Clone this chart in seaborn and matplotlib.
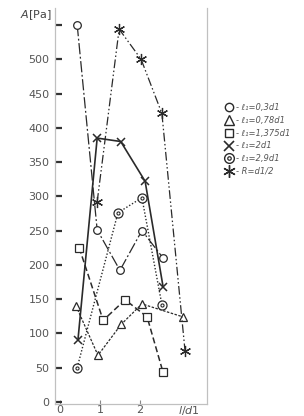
import matplotlib
matplotlib.use("Agg")
import matplotlib.pyplot as plt
import seaborn as sns
import pandas as pd
from matplotlib.lines import Line2D
from matplotlib.legend_handler import HandlerTuple

# ---- data ----
x_c = [0.43, 0.93, 1.50, 2.05, 2.58]
y_c = [550, 251, 192, 250, 210]          # l1=0,3d1

x_t = [0.40, 0.95, 1.53, 2.05, 3.08]
y_t = [140, 68, 113, 143, 124]           # l1=0,78d1

x_s = [0.48, 1.08, 1.63, 2.18, 2.58]
y_s = [225, 119, 149, 124, 43]           # l1=1,375d1

x_x = [0.45, 0.93, 1.52, 2.13, 2.58]
y_x = [91, 385, 380, 322, 168]           # l1=2d1

x_d = [0.43, 1.45, 2.05, 2.55]
y_d = [50, 276, 298, 142]                # l1=2,9d1

x_a = [0.93, 1.48, 2.03, 2.55, 3.13]
y_a = [292, 544, 500, 421, 74]           # R=d1/2

labels = ["- ℓ₁=0,3d1", "- ℓ₁=0,78d1", "- ℓ₁=1,375d1",
          "- ℓ₁=2d1", "- ℓ₁=2,9d1", "- R=d1/2"]
yticks = [0, 50, 100, 150, 200, 250, 300, 350, 400, 450, 500, 550]
ytick_labels = ["0", "50", "100", "150", "200", "250", "300", "350",
                "400", "450", "500", ""]
xticks = [0, 1, 2]
xtick_labels = ["0", "1", "2"]

sns.set_theme(style="white")
plt.rcParams['font.family'] = ['DejaVu Sans']

fig = plt.figure(figsize=(3.04, 4.16), dpi=100)
ax = fig.add_axes([0.181, 0.029, 0.50, 0.952])

col = "#2a2a2a"
series = [
    (x_c, y_c, dict(marker='o', ms=5.5, mfc='white', mec=col, mew=0.9), (0, (9, 2, 1.5, 2)), 0.9),
    (x_t, y_t, dict(marker='^', ms=6, mfc='white', mec=col, mew=0.9), (0, (2, 1.2)), 0.9),
    (x_s, y_s, dict(marker='s', ms=5.5, mfc='white', mec=col, mew=0.9), (0, (4, 2)), 1.1),
    (x_x, y_x, dict(marker='x', ms=6, mec=col, mew=1.1), '-', 1.2),
    (x_d, y_d, dict(marker='o', ms=6.5, mfc='white', mec=col, mew=0.9), (0, (1, 1.4)), 1.0),
    (x_a, y_a, dict(marker=(6, 2, 0), ms=8, mec=col, mew=0.9), (0, (7, 2, 1.2, 2, 1.2, 2)), 0.9),
]
for xs, ys, mk, ls, lw in series:
    df = pd.DataFrame({"x": xs, "y": ys})
    sns.lineplot(data=df, x="x", y="y", ax=ax, sort=False, color=col,
                 linestyle=ls, linewidth=lw, **mk)
# inner ring of the circled-dot markers
df_d = pd.DataFrame({"x": x_d, "y": y_d})
sns.scatterplot(data=df_d, x="x", y="y", ax=ax, marker='o', s=5,
                facecolor='white', edgecolor=col, linewidth=0.8, zorder=5)

ax.set_xlim(-0.125, 3.68)
ax.set_ylim(-3, 575)
ax.set_xlabel("")
ax.set_ylabel("")
ax.set_yticks(yticks)
ax.set_yticklabels(ytick_labels)
ax.set_xticks(xticks)
ax.set_xticklabels(xtick_labels)
ax.tick_params(axis='y', direction='in', length=5, width=1.6, color='#333333',
               labelsize=8, labelcolor='#555555', pad=4, left=True)
ax.tick_params(axis='x', direction='in', length=3, width=0.8, color='#888888',
               labelsize=8, labelcolor='#555555', pad=1, bottom=True)
for s in ['left', 'right', 'bottom']:
    ax.spines[s].set_color('#c0c0c0')
    ax.spines[s].set_linewidth(0.9)
ax.spines['top'].set_visible(False)

fig.text(0.17, 1 - 15 / 416, r"$A$[Pa]", ha='right', va='center',
         fontsize=8, color='#444444')
ax.text(3.22, -3, r"$l/d1$", ha='center', va='top', fontsize=8,
        color='#555555', transform=ax.transData, clip_on=False)

# legend
h_c = Line2D([], [], linestyle='none', marker='o', ms=6, mfc='white', mec=col, mew=1.0)
h_t = Line2D([], [], linestyle='none', marker='^', ms=6.5, mfc='white', mec=col, mew=1.0)
h_s = Line2D([], [], linestyle='none', marker='s', ms=6, mfc='white', mec=col, mew=1.0)
h_x = Line2D([], [], linestyle='none', marker='x', ms=6.5, mec=col, mew=1.2)
h_d1 = Line2D([], [], linestyle='none', marker='o', ms=7, mfc='white', mec=col, mew=1.0)
h_d2 = Line2D([], [], linestyle='none', marker='o', ms=2.5, mfc='white', mec=col, mew=0.9)
h_a = Line2D([], [], linestyle='none', marker=(6, 2, 0), ms=9, mec=col, mew=1.0)
fig.legend([h_c, h_t, h_s, h_x, (h_d1, h_d2), h_a], labels,
           handler_map={tuple: HandlerTuple(ndivide=1)},
           loc='upper left', bbox_to_anchor=(0.715, 0.77), frameon=False,
           handlelength=1.0, handletextpad=0.3, labelspacing=0.45,
           prop={'size': 6, 'style': 'italic'}, labelcolor='#555555')

fig.savefig("out.png", dpi=100)
